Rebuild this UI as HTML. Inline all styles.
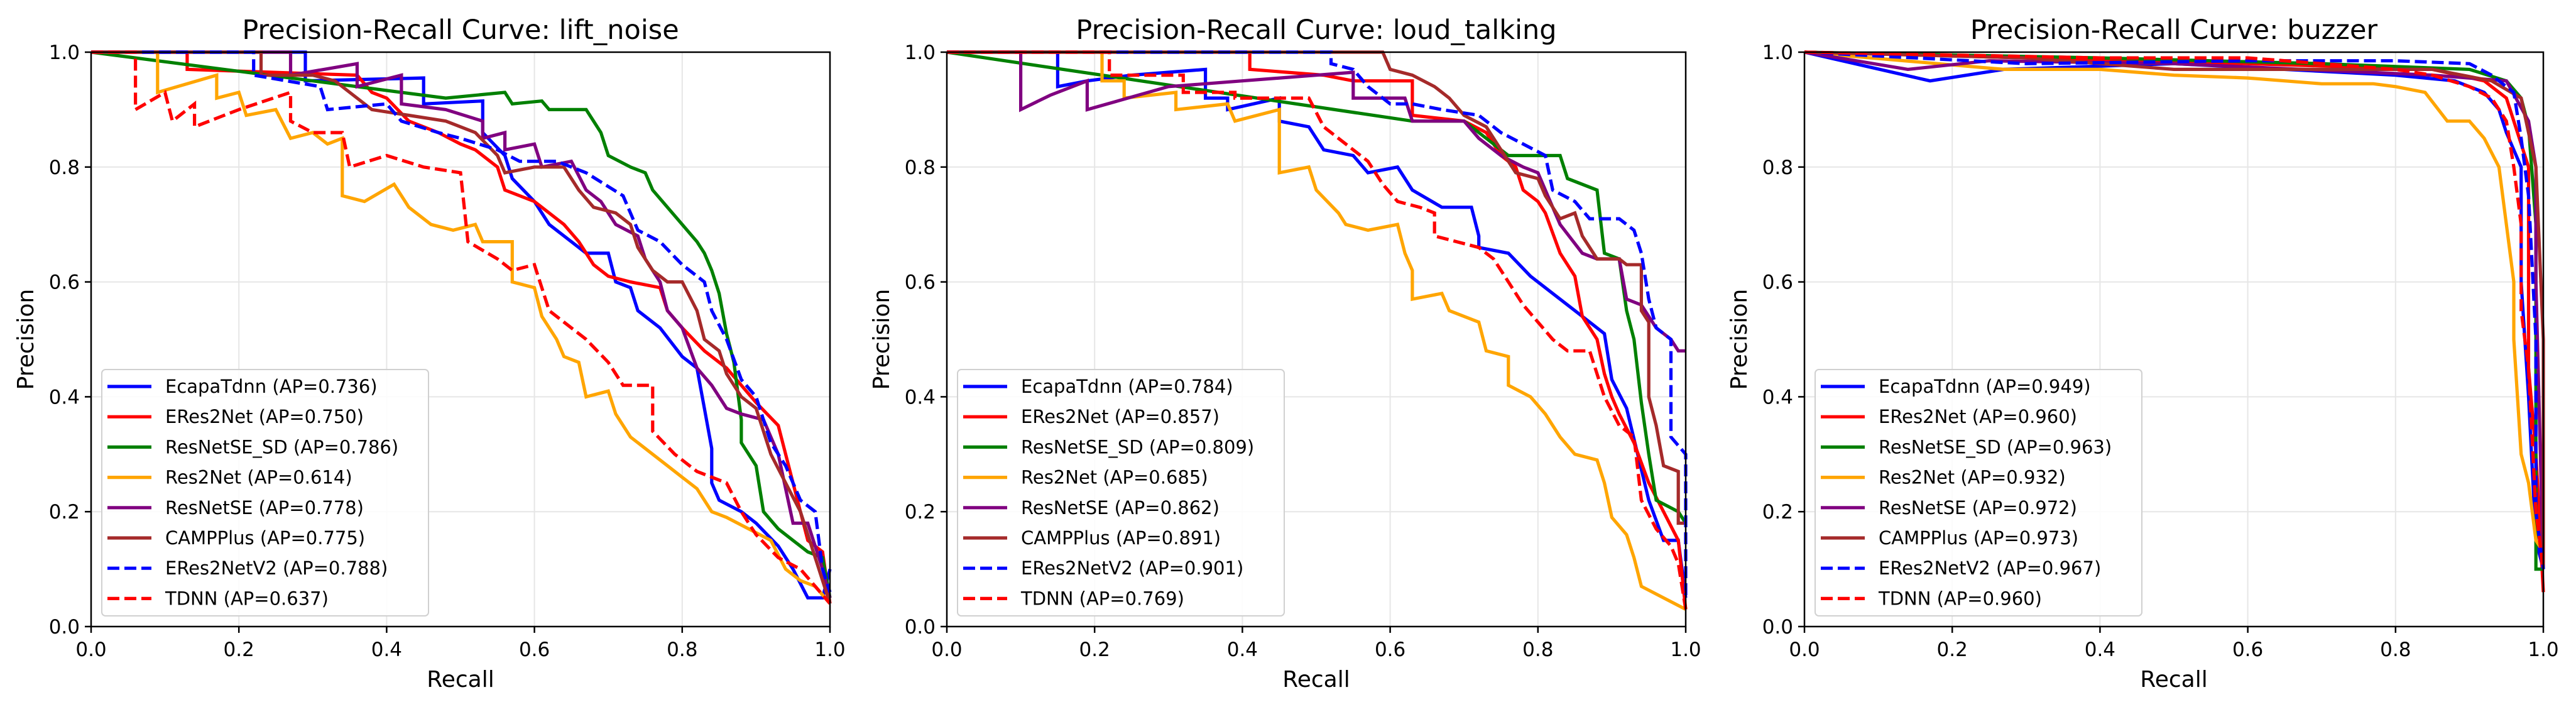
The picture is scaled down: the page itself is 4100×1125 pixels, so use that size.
<!DOCTYPE html>
<html><head><meta charset="utf-8"><style>
html,body{margin:0;padding:0;background:#fff;}
svg{display:block;font-family:"DejaVu Sans","Liberation Sans",sans-serif;}
</style></head><body>
<svg id="fig" width="4100" height="1125" viewBox="0 0 4100 1125" xmlns="http://www.w3.org/2000/svg"></svg>
<script>
const panelTitles = ["Precision-Recall Curve: lift_noise","Precision-Recall Curve: loud_talking","Precision-Recall Curve: buzzer"];
const seriesNames = ["EcapaTdnn","ERes2Net","ResNetSE_SD","Res2Net","ResNetSE","CAMPPlus","ERes2NetV2","TDNN"];
const seriesColors = ["#0000ff","#ff0000","#008000","#ffa500","#800080","#a52a2a","#0000ff","#ff0000"];
const seriesDashed = [false,false,false,false,false,false,true,true];
const apLift = ["0.736","0.750","0.786","0.614","0.778","0.775","0.788","0.637"];
const apLoud = ["0.784","0.857","0.809","0.685","0.862","0.891","0.901","0.769"];
const apBuzz = ["0.949","0.960","0.963","0.932","0.972","0.973","0.967","0.960"];
const tickLabels = ["0.0","0.2","0.4","0.6","0.8","1.0"];
const tickValues = [0,0.2,0.4,0.6,0.8,1.0];

const liftEcapa = [[0,1],[0.29,1],[0.29,0.95],[0.45,0.955],[0.45,0.91],[0.53,0.915],[0.53,0.86],[0.56,0.82],[0.57,0.78],[0.6,0.74],[0.62,0.70],[0.65,0.67],[0.67,0.65],[0.7,0.65],[0.71,0.6],[0.73,0.59],[0.74,0.55],[0.77,0.52],[0.8,0.47],[0.82,0.45],[0.83,0.38],[0.84,0.31],[0.84,0.25],[0.85,0.22],[0.88,0.2],[0.9,0.18],[0.93,0.14],[0.95,0.1],[0.97,0.05],[0.99,0.05],[1.0,0.1]];
const liftERes2Net = [[0,1],[0.13,1],[0.13,0.97],[0.36,0.96],[0.38,0.93],[0.4,0.92],[0.43,0.88],[0.47,0.86],[0.5,0.84],[0.52,0.83],[0.55,0.8],[0.56,0.76],[0.58,0.75],[0.6,0.74],[0.62,0.72],[0.64,0.7],[0.66,0.67],[0.68,0.63],[0.7,0.61],[0.73,0.6],[0.77,0.59],[0.78,0.55],[0.8,0.52],[0.83,0.48],[0.86,0.45],[0.88,0.42],[0.9,0.39],[0.93,0.35],[0.95,0.25],[0.97,0.15],[0.99,0.13],[1.0,0.04]];
const liftResNetSESD = [[0,1],[0.48,0.92],[0.56,0.93],[0.57,0.91],[0.61,0.915],[0.62,0.9],[0.67,0.9],[0.68,0.88],[0.69,0.86],[0.7,0.82],[0.73,0.8],[0.75,0.79],[0.76,0.76],[0.78,0.73],[0.8,0.7],[0.82,0.67],[0.83,0.65],[0.84,0.62],[0.85,0.58],[0.86,0.51],[0.87,0.46],[0.88,0.36],[0.88,0.32],[0.9,0.28],[0.91,0.2],[0.93,0.17],[0.95,0.15],[0.97,0.13],[0.99,0.12],[1.0,0.05]];
const liftRes2Net = [[0,1],[0.09,1],[0.09,0.93],[0.17,0.96],[0.17,0.92],[0.2,0.93],[0.21,0.89],[0.25,0.9],[0.27,0.85],[0.3,0.86],[0.32,0.84],[0.34,0.85],[0.34,0.75],[0.37,0.74],[0.41,0.77],[0.43,0.73],[0.46,0.7],[0.49,0.69],[0.52,0.7],[0.53,0.67],[0.57,0.67],[0.57,0.6],[0.6,0.59],[0.61,0.54],[0.63,0.5],[0.64,0.47],[0.66,0.46],[0.67,0.4],[0.7,0.41],[0.71,0.37],[0.73,0.33],[0.76,0.3],[0.78,0.28],[0.8,0.26],[0.82,0.24],[0.84,0.2],[0.86,0.19],[0.89,0.17],[0.92,0.15],[0.94,0.1],[0.96,0.08],[0.98,0.07],[1.0,0.04]];
const liftResNetSE = [[0,1],[0.27,1],[0.27,0.96],[0.36,0.98],[0.36,0.94],[0.42,0.96],[0.42,0.91],[0.48,0.9],[0.53,0.88],[0.53,0.85],[0.56,0.86],[0.56,0.83],[0.6,0.84],[0.61,0.8],[0.65,0.81],[0.67,0.76],[0.69,0.74],[0.71,0.7],[0.74,0.68],[0.75,0.64],[0.77,0.6],[0.78,0.55],[0.8,0.52],[0.82,0.45],[0.84,0.42],[0.86,0.38],[0.88,0.37],[0.91,0.36],[0.93,0.3],[0.95,0.18],[0.97,0.18],[0.99,0.1],[1.0,0.05]];
const liftCAMPPlus = [[0,1],[0.23,1],[0.23,0.96],[0.3,0.96],[0.33,0.95],[0.35,0.93],[0.38,0.9],[0.43,0.89],[0.48,0.88],[0.52,0.86],[0.55,0.82],[0.56,0.79],[0.6,0.8],[0.64,0.8],[0.66,0.76],[0.68,0.73],[0.71,0.72],[0.73,0.7],[0.74,0.66],[0.76,0.62],[0.78,0.6],[0.8,0.6],[0.82,0.55],[0.83,0.5],[0.85,0.48],[0.86,0.44],[0.88,0.4],[0.9,0.38],[0.92,0.3],[0.94,0.25],[0.96,0.2],[0.98,0.12],[1.0,0.04]];
const liftERes2NetV2 = [[0,1],[0.22,1],[0.22,0.96],[0.31,0.94],[0.32,0.9],[0.4,0.91],[0.42,0.88],[0.47,0.86],[0.5,0.85],[0.55,0.83],[0.58,0.81],[0.63,0.81],[0.67,0.79],[0.72,0.75],[0.74,0.69],[0.77,0.67],[0.8,0.63],[0.83,0.6],[0.84,0.55],[0.86,0.5],[0.88,0.43],[0.9,0.4],[0.92,0.32],[0.94,0.28],[0.96,0.22],[0.98,0.2],[0.99,0.1],[1.0,0.06]];
const liftTDNN = [[0,1],[0.06,1],[0.06,0.9],[0.1,0.93],[0.11,0.88],[0.14,0.91],[0.14,0.87],[0.2,0.9],[0.27,0.93],[0.27,0.88],[0.3,0.86],[0.34,0.86],[0.35,0.8],[0.4,0.82],[0.45,0.8],[0.5,0.79],[0.51,0.67],[0.55,0.64],[0.57,0.62],[0.6,0.63],[0.62,0.55],[0.64,0.53],[0.67,0.5],[0.7,0.46],[0.72,0.42],[0.76,0.42],[0.76,0.34],[0.79,0.3],[0.82,0.27],[0.86,0.25],[0.88,0.2],[0.9,0.16],[0.93,0.12],[0.96,0.1],[0.98,0.07],[1.0,0.04]];

const loudEcapa = [[0,1],[0.15,1],[0.15,0.94],[0.19,0.95],[0.25,0.96],[0.35,0.97],[0.35,0.92],[0.38,0.92],[0.38,0.9],[0.45,0.92],[0.45,0.88],[0.49,0.87],[0.51,0.83],[0.55,0.82],[0.57,0.79],[0.61,0.8],[0.63,0.76],[0.67,0.73],[0.71,0.73],[0.72,0.68],[0.72,0.66],[0.76,0.65],[0.79,0.61],[0.82,0.58],[0.86,0.54],[0.89,0.51],[0.9,0.43],[0.92,0.38],[0.95,0.22],[0.97,0.15],[0.99,0.15],[1.0,0.05]];
const loudERes2Net = [[0,1],[0.41,1],[0.41,0.97],[0.51,0.96],[0.55,0.95],[0.63,0.95],[0.63,0.89],[0.7,0.88],[0.73,0.86],[0.75,0.82],[0.77,0.8],[0.78,0.76],[0.8,0.74],[0.81,0.72],[0.83,0.65],[0.85,0.61],[0.86,0.54],[0.88,0.5],[0.89,0.44],[0.9,0.4],[0.91,0.37],[0.93,0.32],[0.95,0.25],[0.97,0.2],[0.99,0.15],[1.0,0.03]];
const loudResNetSESD = [[0,1],[0.63,0.88],[0.7,0.88],[0.73,0.85],[0.76,0.82],[0.83,0.82],[0.84,0.78],[0.88,0.76],[0.89,0.65],[0.91,0.64],[0.92,0.55],[0.93,0.5],[0.94,0.39],[0.95,0.3],[0.96,0.22],[0.99,0.2],[1.0,0.18]];
const loudRes2Net = [[0,1],[0.21,1],[0.21,0.95],[0.24,0.95],[0.24,0.92],[0.31,0.93],[0.31,0.9],[0.38,0.91],[0.39,0.88],[0.45,0.9],[0.45,0.79],[0.49,0.8],[0.5,0.76],[0.53,0.72],[0.54,0.7],[0.57,0.69],[0.61,0.7],[0.62,0.65],[0.63,0.62],[0.63,0.57],[0.67,0.58],[0.68,0.55],[0.72,0.53],[0.73,0.48],[0.76,0.47],[0.76,0.42],[0.79,0.4],[0.81,0.37],[0.83,0.33],[0.85,0.3],[0.88,0.29],[0.89,0.25],[0.9,0.19],[0.92,0.16],[0.93,0.12],[0.94,0.07],[0.97,0.05],[1.0,0.03]];
const loudResNetSE = [[0,1],[0.1,1],[0.1,0.9],[0.14,0.925],[0.19,0.95],[0.19,0.9],[0.3,0.94],[0.4,0.95],[0.55,0.965],[0.55,0.92],[0.62,0.92],[0.63,0.88],[0.7,0.88],[0.72,0.85],[0.75,0.82],[0.78,0.8],[0.8,0.79],[0.82,0.73],[0.83,0.7],[0.86,0.65],[0.88,0.64],[0.91,0.64],[0.92,0.57],[0.94,0.56],[0.96,0.52],[0.98,0.5],[0.99,0.48],[1.0,0.48]];
const loudCAMPPlus = [[0,1],[0.59,1],[0.6,0.97],[0.63,0.96],[0.66,0.94],[0.68,0.92],[0.7,0.89],[0.73,0.87],[0.75,0.83],[0.77,0.79],[0.8,0.78],[0.81,0.75],[0.83,0.71],[0.85,0.72],[0.86,0.68],[0.88,0.64],[0.91,0.64],[0.92,0.63],[0.94,0.63],[0.94,0.55],[0.95,0.53],[0.95,0.4],[0.96,0.35],[0.97,0.28],[0.99,0.27],[0.99,0.18],[1.0,0.18]];
const loudERes2NetV2 = [[0,1],[0.52,1],[0.52,0.98],[0.55,0.97],[0.57,0.94],[0.6,0.91],[0.63,0.91],[0.67,0.9],[0.72,0.89],[0.75,0.86],[0.78,0.84],[0.81,0.82],[0.82,0.76],[0.85,0.74],[0.87,0.71],[0.91,0.71],[0.93,0.69],[0.94,0.65],[0.95,0.57],[0.96,0.52],[0.98,0.5],[0.98,0.33],[1.0,0.3],[1.0,0.05]];
const loudTDNN = [[0,1],[0.22,1],[0.22,0.96],[0.32,0.96],[0.32,0.93],[0.39,0.93],[0.39,0.92],[0.45,0.92],[0.49,0.92],[0.51,0.87],[0.54,0.84],[0.57,0.81],[0.59,0.77],[0.61,0.74],[0.64,0.73],[0.66,0.72],[0.66,0.68],[0.69,0.67],[0.72,0.66],[0.74,0.64],[0.76,0.6],[0.78,0.56],[0.8,0.53],[0.82,0.5],[0.84,0.48],[0.87,0.48],[0.89,0.4],[0.91,0.35],[0.93,0.33],[0.94,0.22],[0.96,0.17],[0.98,0.14],[0.99,0.11],[1.0,0.03]];

const buzzEcapa = [[0,1],[0.17,0.95],[0.27,0.97],[0.5,0.98],[0.8,0.96],[0.88,0.95],[0.92,0.93],[0.94,0.9],[0.95,0.86],[0.97,0.8],[0.97,0.6],[0.98,0.4],[0.99,0.15],[1.0,0.1]];
const buzzERes2Net = [[0,1],[0.3,0.99],[0.6,0.98],[0.85,0.97],[0.92,0.95],[0.95,0.92],[0.96,0.88],[0.98,0.8],[0.98,0.6],[0.98,0.45],[0.99,0.3],[1.0,0.06]];
const buzzResNetSESD = [[0,1],[0.4,0.99],[0.7,0.98],[0.9,0.97],[0.95,0.95],[0.97,0.92],[0.98,0.87],[0.99,0.7],[0.99,0.4],[0.99,0.1],[1.0,0.1]];
const buzzRes2Net = [[0,1],[0.27,0.97],[0.4,0.97],[0.5,0.96],[0.6,0.955],[0.7,0.945],[0.77,0.945],[0.8,0.94],[0.84,0.93],[0.87,0.88],[0.9,0.88],[0.92,0.85],[0.94,0.8],[0.95,0.7],[0.96,0.6],[0.96,0.5],[0.97,0.3],[0.98,0.25],[0.99,0.15],[1.0,0.13]];
const buzzResNetSE = [[0,1],[0.14,0.97],[0.25,0.985],[0.5,0.98],[0.85,0.96],[0.95,0.95],[0.98,0.88],[0.99,0.8],[0.99,0.6],[1.0,0.1]];
const buzzCAMPPlus = [[0,1],[0.3,0.99],[0.5,0.97],[0.85,0.97],[0.93,0.95],[0.97,0.92],[0.99,0.8],[1.0,0.5],[1.0,0.1]];
const buzzERes2NetV2 = [[0,1],[0.3,0.98],[0.6,0.985],[0.8,0.985],[0.9,0.98],[0.93,0.96],[0.96,0.93],[0.97,0.85],[0.98,0.75],[0.99,0.5],[0.99,0.2],[1.0,0.1]];
const buzzTDNN = [[0,1],[0.4,0.99],[0.6,0.99],[0.8,0.97],[0.85,0.96],[0.9,0.94],[0.93,0.92],[0.95,0.88],[0.96,0.8],[0.97,0.7],[0.97,0.55],[0.98,0.45],[0.99,0.2],[1.0,0.1]];

const panelSeries = [
  [liftEcapa,liftERes2Net,liftResNetSESD,liftRes2Net,liftResNetSE,liftCAMPPlus,liftERes2NetV2,liftTDNN],
  [loudEcapa,loudERes2Net,loudResNetSESD,loudRes2Net,loudResNetSE,loudCAMPPlus,loudERes2NetV2,loudTDNN],
  [buzzEcapa,buzzERes2Net,buzzResNetSESD,buzzRes2Net,buzzResNetSE,buzzCAMPPlus,buzzERes2NetV2,buzzTDNN]
];
const panelAP = [apLift, apLoud, apBuzz];
const panelKeys = ["lift-noise","loud-talking","buzzer"];

const NS = "http://www.w3.org/2000/svg";
const svgRoot = document.getElementById('fig');
function mk(tag, attrs, parent){
  const e = document.createElementNS(NS, tag);
  for (const k in attrs) e.setAttribute(k, attrs[k]);
  (parent||svgRoot).appendChild(e);
  return e;
}
const axLeft = [145, 1507, 2872];
const axW = 1176, axTop = 83, axBottom = 997;

for (let p = 0; p < 3; p++) {
  const x0 = axLeft[p];
  const sx = v => x0 + v * axW;
  const sy = v => axBottom - v * (axBottom - axTop);
  const g = mk('g', {});
  
  

  for (let i = 0; i < tickValues.length; i++) {
    const gx = mk('line', {x1:sx(tickValues[i]), x2:sx(tickValues[i]), y1:axTop, y2:axBottom, stroke:'#e6e6e6', 'stroke-width':2}, g);
    
    
    const gy = mk('line', {x1:x0, x2:x0+axW, y1:sy(tickValues[i]), y2:sy(tickValues[i]), stroke:'#e6e6e6', 'stroke-width':2}, g);
    
    
  }
  const cp = mk('clipPath', {id:'clip'+p});
  mk('rect', {x:x0-4, y:axTop-4, width:axW+8, height:axBottom-axTop+8}, cp);
  const cg = mk('g', {'clip-path':'url(#clip'+p+')'}, g);
  
  
  for (let s = 0; s < seriesNames.length; s++) {
    const pts = panelSeries[p][s].map(d => sx(d[0]).toFixed(1) + ',' + sy(d[1]).toFixed(1)).join(' ');
    const pl = mk('polyline', {points:pts, fill:'none', stroke:seriesColors[s], 'stroke-width':5.2, 'stroke-linejoin':'miter'}, cg);
    if (seriesDashed[s]) pl.setAttribute('stroke-dasharray', '19,8');
    
    
  }
  const fr = mk('rect', {x:x0, y:axTop, width:axW, height:axBottom-axTop, fill:'none', stroke:'#000', 'stroke-width':2.5}, g);
  
  
  for (let i = 0; i < tickValues.length; i++) {
    const tx = mk('line', {x1:sx(tickValues[i]), x2:sx(tickValues[i]), y1:axBottom, y2:axBottom+10, stroke:'#000', 'stroke-width':2.5}, g);
    
    
    const tl = mk('text', {x:sx(tickValues[i]), y:axBottom+47, 'text-anchor':'middle', 'font-size':31, fill:'#000'}, g);
    tl.textContent = tickLabels[i];
    
    
    const ty = mk('line', {x1:x0-10, x2:x0, y1:sy(tickValues[i]), y2:sy(tickValues[i]), stroke:'#000', 'stroke-width':2.5}, g);
    
    
    const yl = mk('text', {x:x0-18, y:sy(tickValues[i])+11, 'text-anchor':'end', 'font-size':31, fill:'#000'}, g);
    yl.textContent = tickLabels[i];
    
    
  }
  const xt = mk('text', {x:x0+axW/2, y:1093, 'text-anchor':'middle', 'font-size':36, fill:'#000'}, g);
  xt.textContent = 'Recall';
  
  
  const yt = mk('text', {x:0, y:0, 'text-anchor':'middle', 'font-size':36, fill:'#000', transform:'translate('+(x0-92)+','+((axTop+axBottom)/2)+') rotate(-90)'}, g);
  yt.textContent = 'Precision';
  
  
  const tt = mk('text', {x:x0+axW/2, y:62, 'text-anchor':'middle', 'font-size':43, fill:'#000'}, g);
  tt.textContent = panelTitles[p];
  
  

  const lg = mk('g', {}, g);
  
  
  mk('rect', {x:x0+17, y:588, width:520, height:392, rx:6, fill:'#fff', 'fill-opacity':0.85, stroke:'#d0d0d0', 'stroke-width':2}, lg);
  for (let s = 0; s < seriesNames.length; s++) {
    const cy = 615 + s * 48.2;
    const ln = mk('line', {x1:x0+26, x2:x0+96, y1:cy, y2:cy, stroke:seriesColors[s], 'stroke-width':5.2}, lg);
    if (seriesDashed[s]) ln.setAttribute('stroke-dasharray', '19,8');
    
    
    const lt = mk('text', {x:x0+118, y:cy+10, 'font-size':29, fill:'#000'}, lg);
    lt.textContent = seriesNames[s] + ' (AP=' + panelAP[p][s] + ')';
    
    
  }
}
</script>
</body></html>
